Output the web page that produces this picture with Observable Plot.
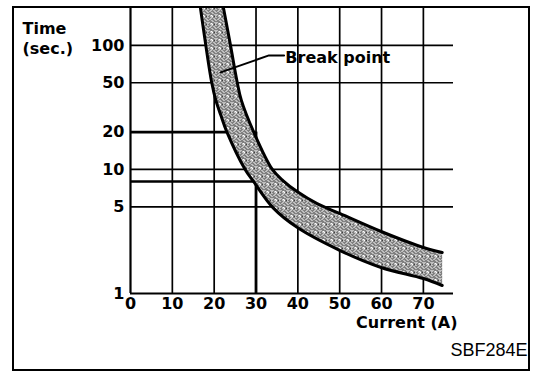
<!DOCTYPE html>
<html><head><meta charset="utf-8">
<script src="https://cdn.jsdelivr.net/npm/d3@7"></script>
<script src="https://cdn.jsdelivr.net/npm/@observablehq/plot@0.6"></script>
<style>
body{margin:0;background:#fff;}
#wrap{position:relative;width:560px;height:378px;overflow:hidden;background:#fff;}
#frame{position:absolute;left:12px;top:6px;width:514px;height:361px;border:2px solid #000;pointer-events:none;}
</style></head><body>
<div id="wrap"><div id="chart"></div><div id="frame"></div></div>
<script>
// Tick values
const xTicks = [0, 10, 20, 30, 40, 50, 60, 70];
const yTicks = [1, 5, 8, 10, 20, 50, 100];
const fullRows = [5, 10, 50, 100];
const limitRows = [20, 8];
const limitCurrent = 30;
const limitTimeTop = 20;

// Lower (fast) edge of the band
const lowerCurrent = [16.7, 18.0, 19.4, 20.4, 21.6, 23.0, 27.4, 29.4, 34.1, 39.9, 50.1, 59.9, 70, 74.5];
const lowerTime    = [202, 100, 50.5, 36, 27.3, 20.2, 10, 8.0, 4.9, 3.4, 2.22, 1.62, 1.32, 1.16];
// Upper (slow) edge of the band
const upperCurrent = [22.2, 23.9, 25.5, 26.5, 29.4, 33.9, 36.5, 39.9, 44.6, 50.1, 59.9, 70, 74.5];
const upperTime    = [202, 100, 50.5, 36, 20.2, 10, 8.1, 6.6, 5.3, 4.4, 3.16, 2.35, 2.14];

// "Break point" leader
const leaderCurrent = [21.5, 33.1, 36.7];
const leaderTime = [60.6, 83, 83];
const labelCurrent = 37.0;
const labelTime = 83;

const lower = lowerCurrent.map((x, i) => ({x, y: lowerTime[i]}));
const upper = upperCurrent.map((x, i) => ({x, y: upperTime[i]}));
// closed outline of the band; the end points are repeated so the right edge stays straight
const band = lower.concat([lower[lower.length - 1], upper[upper.length - 1]], upper.slice().reverse());
const leader = leaderCurrent.map((x, i) => ({x, y: leaderTime[i]}));

const xMax = 77.2, yMax = 202;

const chart = Plot.plot({
  width: 560, height: 378,
  marginLeft: 130, marginRight: 107, marginTop: 7, marginBottom: 85,
  style: {fontFamily: "DejaVu Sans", background: "transparent", color: "#000", overflow: "visible"},
  x: {domain: [0, xMax]},
  y: {type: "log", domain: [1, yMax]},
  marks: [
    Plot.ruleX(xTicks.slice(1), {y1: 1, y2: yMax, stroke: "#000", strokeWidth: 1.7}),
    Plot.ruleY(fullRows, {stroke: "#000", strokeWidth: 1.7}),
    Plot.ruleY(limitRows, {x1: 0, x2: limitCurrent, stroke: "#000", strokeWidth: 2.6}),
    Plot.ruleX([limitCurrent], {y1: 1, y2: limitTimeTop, stroke: "#000", strokeWidth: 2.8}),
    Plot.line(band, {x: "x", y: "y", curve: "catmull-rom", fill: "url(#stipple)", stroke: "none", clip: true}),
    Plot.ruleX([0], {y1: 1, y2: yMax, stroke: "#000", strokeWidth: 2.2}),
    Plot.ruleY([1], {stroke: "#000", strokeWidth: 2.2}),
    Plot.line(lower, {x: "x", y: "y", curve: "catmull-rom", stroke: "#000", strokeWidth: 3, clip: true}),
    Plot.line(upper, {x: "x", y: "y", curve: "catmull-rom", stroke: "#000", strokeWidth: 3, clip: true}),
    Plot.line(leader, {x: "x", y: "y", stroke: "#000", strokeWidth: 2}),
    Plot.text(["Break point"], {x: () => labelCurrent, y: () => labelTime, text: d => d, textAnchor: "start", dy: 2, fontSize: 16, fontWeight: "bold", fill: "#000"}),
    Plot.axisX({ticks: xTicks, tickSize: 0, tickPadding: 4, fontSize: 16, fontWeight: "bold", label: null, tickFormat: d => String(d)}),
    Plot.axisY({ticks: yTicks, tickSize: 0, tickPadding: 6, fontSize: 16, fontWeight: "bold", label: null, tickFormat: d => String(d)}),
    Plot.text(["Current (A)"], {frameAnchor: "bottom-right", text: d => d, textAnchor: "end", dx: 4, dy: 34, fontSize: 16, fontWeight: "bold", fill: "#000"}),
    Plot.text(["Time\n(sec.)"], {frameAnchor: "top-left", text: d => d, textAnchor: "start", lineAnchor: "top", dx: -108, dy: 12, fontSize: 16, fontWeight: "bold", lineHeight: 1.25, fill: "#000"}),
    Plot.text(["SBF284E"], {frameAnchor: "bottom-right", text: d => d, textAnchor: "end", dx: 74, dy: 62, fontSize: 18, fontFamily: "Liberation Sans", fill: "#000"})
  ]
});

// stipple texture for the band
const rows = ["10100100", "01001010", "10010001", "00101100", "11000010", "00110101", "01001000", "10000110"];
let dots = "";
rows.forEach((r, j) => [...r].forEach((c, i) => { if (c === "1") dots += `<rect x="${i}" y="${j}" width="1" height="1" fill="#000"/>`; }));
d3.select(chart).insert("defs", ":first-child").html(
  `<pattern id="stipple" width="8" height="8" patternUnits="userSpaceOnUse"><rect width="8" height="8" fill="#fff"/>${dots}</pattern>`
);
document.getElementById("chart").appendChild(chart);
</script>
</body></html>
